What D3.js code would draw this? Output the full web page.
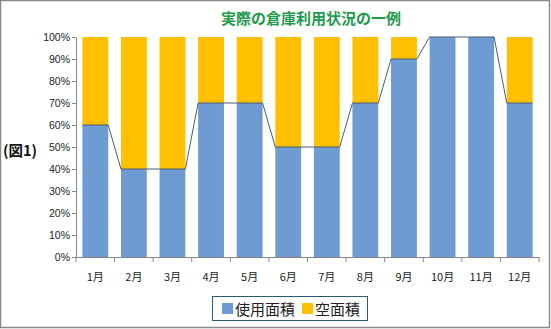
<!DOCTYPE html>
<html><head><meta charset="utf-8">
<script src="https://cdn.jsdelivr.net/npm/d3@7"></script>
<style>body{margin:0;background:#fff}svg{display:block}</style>
</head><body>
<svg id="c" width="551" height="329"></svg>
<script>
const months = ["1月","2月","3月","4月","5月","6月","7月","8月","9月","10月","11月","12月"];
const used = [60,40,40,70,70,50,50,70,90,100,100,70];
const empty = [40,60,60,30,30,50,50,30,10,0,0,30];
const yTicks = [0,10,20,30,40,50,60,70,80,90,100];
const seriesNames = ["使用面積","空面積"];
const colors = ["#6f9bd3","#ffc000"];

const svg = d3.select("#c");
const font = "'Noto Sans CJK JP','Noto Sans CJK SC',sans-serif";
svg.append("rect").attr("x",0.5).attr("y",0.5).attr("width",549).attr("height",327)
  .attr("fill","#fff").attr("stroke","#8a8a8a").attr("stroke-width",1.5);

const L=76,R=539,T=37,B=257;
const x = d3.scaleBand().domain(months).range([L,R]).paddingInner(0.33).paddingOuter(0.165);
const xb = d3.scaleBand().domain(months).range([L,R]);
const y = d3.scaleLinear().domain([0,100]).range([B,T]);

// stacked bars
const data = months.map((m,i)=>({m, used:used[i], empty:empty[i]}));
const stack = d3.stack().keys(["used","empty"])(data);
stack.forEach((s,k)=>{
  svg.append("g").selectAll("rect").data(s).join("rect")
    .attr("x",d=>x(d.data.m)).attr("width",x.bandwidth())
    .attr("y",d=>y(d[1])).attr("height",d=>y(d[0])-y(d[1]))
    .attr("fill",colors[k]);
});
// series lines
const pts=[];
data.forEach((d,i)=>{
  pts.push([x(d.m), y(d.used)]);
  pts.push([x(d.m)+x.bandwidth(), y(d.used)]);
});
svg.append("path").attr("d",d3.line()(pts)).attr("fill","none")
  .attr("stroke","#4d5b75").attr("stroke-width",1);

// axes
const ya = svg.append("g").attr("transform",`translate(${L},0)`)
  .call(d3.axisLeft(y).tickValues(yTicks).tickFormat(d=>d+"%").tickSize(4).tickSizeOuter(0));
ya.select(".domain").attr("stroke","#868686");
ya.selectAll(".tick line").attr("stroke","#868686");
ya.selectAll("text").attr("font-family","Liberation Sans, Arial, sans-serif").attr("font-size",10.5).attr("fill","#222").attr("x",-6);

const xa = svg.append("g").attr("transform",`translate(0,${B})`)
  .call(d3.axisBottom(xb).tickSize(0).tickSizeOuter(0));
xa.select(".domain").attr("stroke","#868686");
xa.selectAll(".tick text").attr("font-family",font).attr("font-size",11).attr("fill","#222").attr("dy",0).attr("y",24);
// boundary tick marks
svg.append("g").selectAll("line").data(d3.range(13)).join("line")
  .attr("x1",i=>L+i*xb.step()).attr("x2",i=>L+i*xb.step())
  .attr("y1",B).attr("y2",B+5).attr("stroke","#868686");

// title
svg.append("text").attr("x",311).attr("y",24).attr("text-anchor","middle")
  .attr("font-family",font).attr("font-weight","bold").attr("font-size",15).attr("fill","#1e9b4b")
  .text("実際の倉庫利用状況の一例");
// side label
svg.append("text").attr("x",3).attr("y",156).attr("font-family",font).attr("font-weight","bold")
  .attr("font-size",14.5).attr("fill","#111").text("(図1)");

// legend
const lg = svg.append("g");
lg.append("rect").attr("x",212.5).attr("y",296.5).attr("width",155).attr("height",24)
  .attr("fill","#fff").attr("stroke","#2d5a70").attr("stroke-width",1);
const items=[{x:222,name:seriesNames[0],c:colors[0]},{x:302,name:seriesNames[1],c:colors[1]}];
items.forEach(it=>{
  lg.append("rect").attr("x",it.x).attr("y",303).attr("width",11).attr("height",11).attr("fill",it.c);
  lg.append("text").attr("x",it.x+13).attr("y",315).attr("font-family",font).attr("font-size",15).attr("fill","#222").text(it.name);
});
</script>
</body></html>
